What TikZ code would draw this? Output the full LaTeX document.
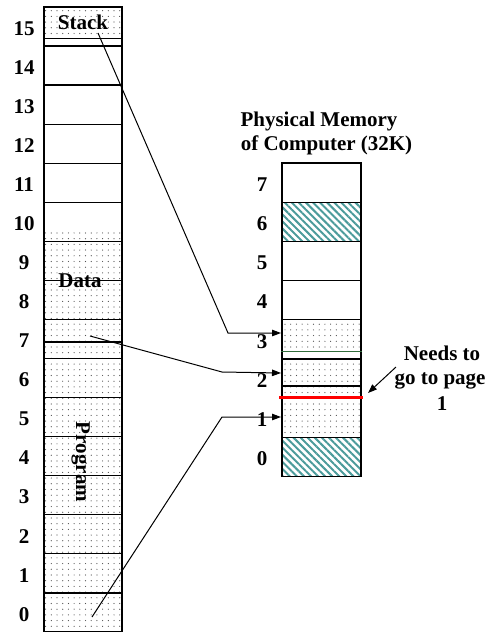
\documentclass[tikz,border=0pt]{standalone}
\usepackage{fontspec}
\setmainfont{Liberation Serif}
\usetikzlibrary{patterns.meta,arrows.meta}
\definecolor{hatchcol}{RGB}{75,155,155}
\definecolor{dotcol}{RGB}{80,80,80}
\definecolor{sepgreen}{RGB}{50,110,60}
\begin{document}
\begin{tikzpicture}[x=1pt,y=-1pt,
  lbl/.style={font=\fontsize{21}{25}\selectfont\bfseries, inner sep=0pt, anchor=base},
  cell/.style={draw=black, line width=1.3pt, inner sep=0pt},
  vcell/.style={cell, minimum width=78pt, minimum height=39.06pt},
  pcell/.style={cell, minimum width=79pt, minimum height=39.2pt},
  dots/.style={pattern={Dots[distance=5.7pt,radius=0.6pt]}, pattern color=dotcol},
  hatched/.style={pattern={Lines[angle=-45,distance=5pt,line width=2pt]}, pattern color=hatchcol},
  conn/.style={line width=1pt},
  arr/.style={-{Triangle[length=9pt,width=6.5pt]}}]
\useasboundingbox (0,0) rectangle (494,632);

% ---------- virtual memory (left column) ----------
\path[dots] (44,7) rectangle (122,38);
\path[dots] (44,229) rectangle (122,341.7);
\path[dots] (44,341.7) rectangle (122,633);
\foreach \r in {0,...,15}{
  \pgfmathsetmacro{\cy}{7+39.06*(15-\r)+19.53}
  \node[vcell] (v\r) at (83,\cy) {};
  \node[lbl] (lv\r) at (24,\cy+8.7) {\r};
}
\draw[line width=1pt] (v15.west |- 0,38) -- (v15.east |- 0,38);
\draw[line width=1.6pt] (v7.west |- 0,341.7) -- (v7.east |- 0,341.7);

\node[lbl] (stack) at (83,29.5) {Stack};
\node[lbl] (data) at (80,287.3) {Data};
\node[lbl, rotate=-90] (program) at (76,462) {Program};

% ---------- physical memory (right column) ----------
\path[hatched] (282,202.2) rectangle (361,241.4);
\path[hatched] (282,437.4) rectangle (361,476.6);
\path[dots] (282,319.8) rectangle (361,351);
\path[dots] (282,359) rectangle (361,437.4);
\foreach \r in {0,...,7}{
  \pgfmathsetmacro{\cy}{163+39.2*(7-\r)+19.6}
  \node[pcell] (p\r) at (321.5,\cy) {};
  \node[lbl] (lp\r) at (262,\cy+8.7) {\r};
}
\draw[line width=1pt, sepgreen] (p3.west |- 0,351) -- (p3.east |- 0,351);
\draw[line width=1.2pt] (p2.west |- 0,386) -- (p2.east |- 0,386);
\draw[line width=3pt, red] ([xshift=-2pt]p1.north west) -- ([xshift=1pt]p1.north east);

\node[lbl] (title1) at (319,126) {Physical Memory};
\node[lbl] (title2) at (326.5,150) {of Computer (32K)};

\node[lbl] (needs1) at (442,360) {Needs to};
\node[lbl] (needs2) at (440,384.5) {go to page};
\node[lbl] (needs3) at (442,410) {1};

% ---------- connectors ----------
\coordinate (sA) at (98,33);
\coordinate (sB) at (228,333);
\coordinate (sC) at (281,333);
\coordinate (dA) at (90,336);
\coordinate (dB) at (222,372);
\coordinate (dC) at (281,373);
\coordinate (gA) at (92,617);
\coordinate (gB) at (222,417);
\coordinate (gC) at (281,417);
\coordinate (nA) at (396,367);
\coordinate (nB) at (368,393);

\draw[conn, arr] (sA) -- (sB) -- (sC);
\draw[conn, arr] (dA) -- (dB) -- (dC);
\draw[conn, arr] (gA) -- (gB) -- (gC);
\draw[conn, arr] (nA) -- (nB);
\end{tikzpicture}
\end{document}
